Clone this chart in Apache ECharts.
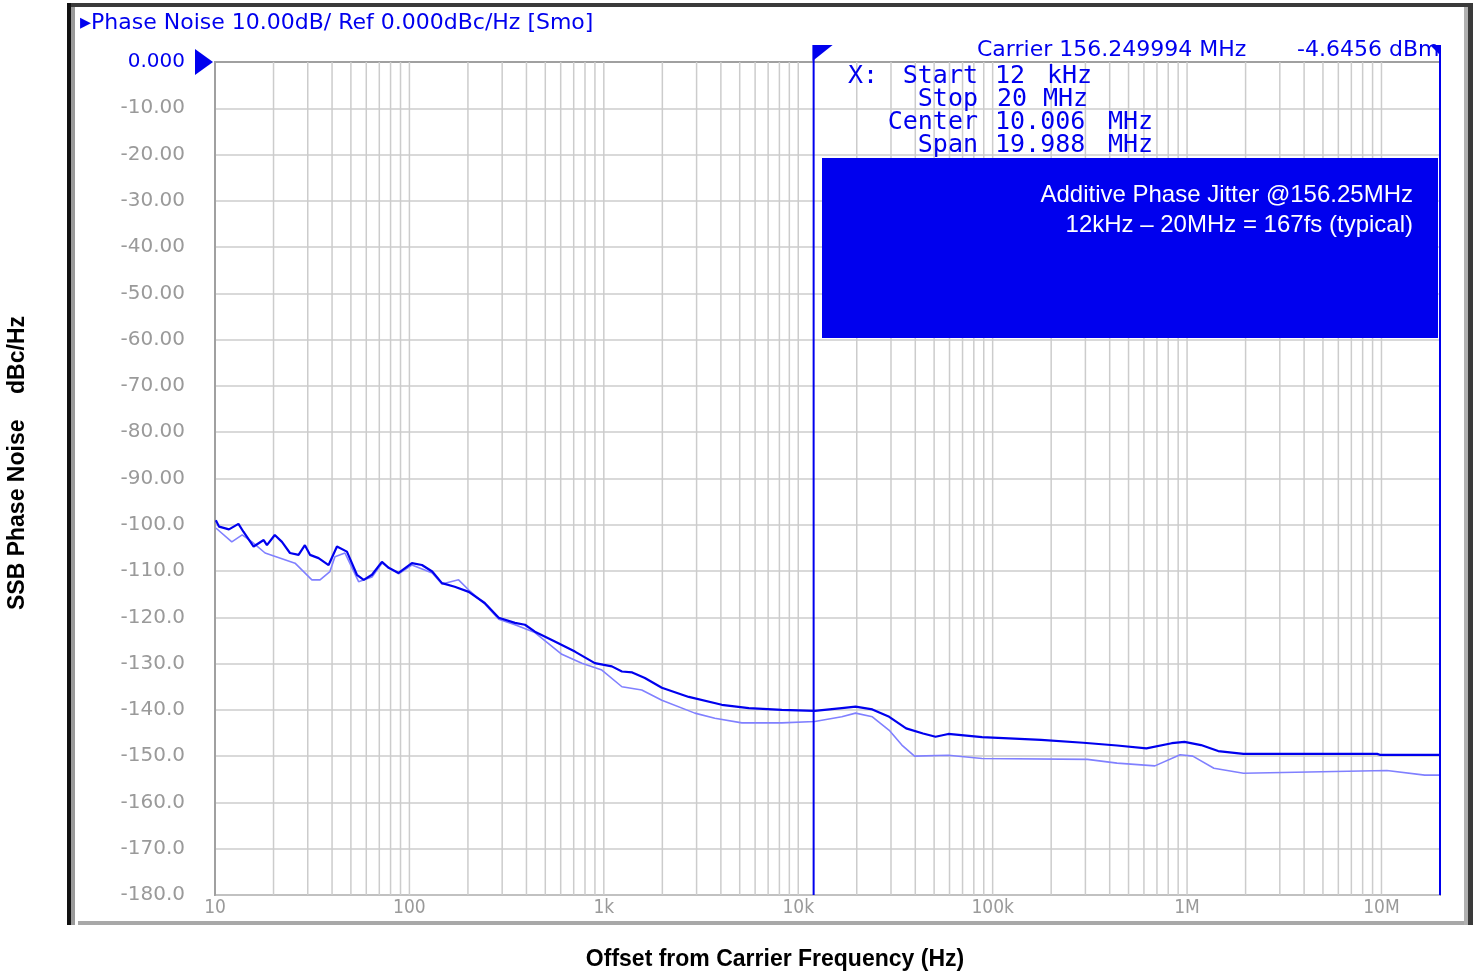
<!DOCTYPE html>
<html>
<head>
<meta charset="utf-8">
<script src="https://cdn.jsdelivr.net/npm/echarts@6/dist/echarts.min.js"></script>
<style>html,body{margin:0;padding:0;background:#fff;}#c{width:1479px;height:974px;}</style>
</head>
<body>
<div id="c"></div>
<script>
// ---- data ----
const xTickValues = [10, 100, 1000, 10000, 100000, 1000000, 10000000];
const xTickLabels = ['10', '100', '1k', '10k', '100k', '1M', '10M'];
const minorMultipliers = [1, 2, 3, 4, 5, 6, 7, 8, 9];

const darkFreq = [10.1,10.5,11.8,13.2,14.0,15.8,17.8,18.5,20.3,22.1,24.3,26.9,29.0,30.8,34.1,38.4,42.4,47.7,53.7,58.2,64.2,72.2,78.2,88.0,103,116,131,147,171,202,244,288,349,393,442,540,710,899,1100,1239,1400,1626,1988,2735,4043,5566,8225,12150,16750,19720,24050,29370,35890,43850,50850,59130,88180,177400,292400,436500,618000,834000,970000,1180000,1445000,1950000,9500000,9800000,20000000];
const darkDb = [-99.0,-100.4,-101.0,-99.8,-101.5,-104.7,-103.3,-104.4,-102.2,-103.7,-106.1,-106.5,-104.4,-106.5,-107.2,-108.7,-104.7,-105.8,-110.8,-111.9,-110.8,-108.0,-109.3,-110.4,-108.3,-108.7,-110.1,-112.6,-113.4,-114.5,-116.9,-120.1,-121.2,-121.6,-123.1,-124.9,-127.4,-129.9,-130.6,-131.7,-131.9,-133.1,-135.2,-137.2,-138.9,-139.6,-140.0,-140.2,-139.6,-139.3,-139.9,-141.5,-144.0,-145.1,-145.8,-145.2,-145.9,-146.5,-147.1,-147.7,-148.3,-147.2,-146.9,-147.6,-148.9,-149.5,-149.5,-149.7,-149.7];

const lightFreq = [10.1,12.2,13.8,15.5,18.1,25.8,31.5,34.7,39.0,41.4,46.6,54.8,64.2,72.2,88.0,103,131,147,179,202,244,288,349,442,608,771,977,1239,1567,1988,2938,3723,5128,8225,12150,16750,19720,24050,29370,34120,39630,59130,88180,307000,436500,683000,921000,1070000,1374000,1950000,10670000,16700000,20000000];
const lightDb = [-100.7,-103.7,-102.2,-103.7,-106.1,-108.3,-111.9,-111.9,-110.1,-106.9,-106.1,-112.3,-111.3,-108.3,-110.6,-108.7,-110.4,-112.8,-111.9,-114.1,-117.1,-120.4,-121.6,-123.3,-128.0,-129.9,-131.4,-135.0,-135.7,-137.9,-140.7,-141.8,-142.8,-142.8,-142.5,-141.5,-140.7,-141.5,-144.4,-147.6,-150.0,-149.8,-150.5,-150.7,-151.5,-152.1,-149.7,-150.0,-152.6,-153.7,-153.1,-154.1,-154.1];

const markerFreqs = [12000, 20000000];
const xMin = 10, xMax = 20000000;
const yMin = -180, yMax = 0, yStep = 10;

// vertical grid frequencies (1..9 x each decade)
const gridFreqs = [];
xTickValues.forEach(d => minorMultipliers.forEach(m => { const f = d * m; if (f > xMin && f < xMax) gridFreqs.push(f); }));

const BLUE = '#0000ee';
const chart = echarts.init(document.getElementById('c'));

function xLabel(v) {
  for (let i = 0; i < xTickValues.length; i++) {
    if (Math.abs(Math.log10(v) - Math.log10(xTickValues[i])) < 1e-6) return xTickLabels[i];
  }
  return '';
}
function yLabel(v) {
  if (Number(v) === 0) return '{ref|0.000}';
  v = Number(v);
  if (Math.abs(v) < 100) return v.toFixed(2);
  return v.toFixed(1);
}

chart.setOption({
  animation: false,
  backgroundColor: '#fff',
  grid: { left: 215, right: 39, top: 62, bottom: 79, show: true, borderColor: '#a0a0a0', borderWidth: 2 },
  xAxis: {
    type: 'log', logBase: 10, min: xMin, max: xMax,
    axisLine: { show: true, lineStyle: { color: '#a0a0a0', width: 2 } },
    axisTick: { show: false },
    splitLine: { show: false },
    minorSplitLine: { show: false },
    axisLabel: { formatter: xLabel, color: '#9a9a9a', fontFamily: 'DejaVu Sans Condensed', fontSize: 19, margin: 4 }
  },
  yAxis: {
    type: 'value', min: yMin, max: yMax, interval: yStep,
    axisLine: { show: true, lineStyle: { color: '#a0a0a0', width: 2 } },
    axisTick: { show: false },
    splitLine: { show: true, lineStyle: { color: '#cccccc', width: 1.5 } },
    axisLabel: {
      formatter: yLabel, color: '#9a9a9a', fontFamily: 'DejaVu Sans', fontSize: 20, margin: 30,
      rich: { ref: { color: BLUE, fontFamily: 'DejaVu Sans', fontSize: 20 } }
    }
  },
  series: [
    {
      type: 'custom', z: 1, silent: true,
      data: gridFreqs,
      renderItem: function (params, api) {
        const f = api.value(0);
        const p1 = api.coord([f, yMax]);
        const p2 = api.coord([f, yMin]);
        return { type: 'line', shape: { x1: p1[0], y1: p1[1], x2: p2[0], y2: p2[1] }, style: { stroke: '#cccccc', lineWidth: 1.5 } };
      },
      encode: { x: 0 }
    },
    {
      type: 'line', z: 3, showSymbol: false, symbol: 'none', silent: true,
      data: lightFreq.map((f, i) => [f, lightDb[i]]),
      lineStyle: { color: '#8080ff', width: 1.6 }
    },
    {
      type: 'line', z: 4, showSymbol: false, symbol: 'none', silent: true,
      data: darkFreq.map((f, i) => [f, darkDb[i]]),
      lineStyle: { color: BLUE, width: 2.2 }
    }
  ]
});

// ---- annotations positioned via the chart's own scales ----
const yTop = chart.convertToPixel({ yAxisIndex: 0 }, yMax);
const yBot = chart.convertToPixel({ yAxisIndex: 0 }, yMin);
const xLeft = chart.convertToPixel({ xAxisIndex: 0 }, xMin);
const mx1 = chart.convertToPixel({ xAxisIndex: 0 }, markerFreqs[0]);
const mx2 = chart.convertToPixel({ xAxisIndex: 0 }, markerFreqs[1]);
const flagTop = yTop - 17;

const monoFont = '25px "DejaVu Sans Mono"';
const infoTxt = (x, y, t, align) => ({ type: 'text', z: 20, style: { x: x, y: y, text: t, font: monoFont, fill: BLUE, textAlign: align || 'left', textVerticalAlign: 'middle' } });

const graphics = [
  // frame
  { type: 'rect', z: -10, shape: { x: 67, y: 3, width: 1406, height: 4 }, style: { fill: '#3a3a3a' } },
  { type: 'rect', z: -10, shape: { x: 67, y: 3, width: 4, height: 922 }, style: { fill: '#111' } },
  { type: 'rect', z: -10, shape: { x: 71, y: 7, width: 4, height: 918 }, style: { fill: '#9a9a9a' } },
  { type: 'rect', z: -10, shape: { x: 1468, y: 3, width: 5, height: 922 }, style: { fill: '#3a3a3a' } },
  { type: 'rect', z: -10, shape: { x: 1464, y: 7, width: 4, height: 918 }, style: { fill: '#b0b0b0' } },
  { type: 'rect', z: -10, shape: { x: 78, y: 921, width: 1386, height: 4 }, style: { fill: '#a8a8a8' } },
  // header
  { type: 'text', z: 20, style: { x: 80, y: 23, text: '▸Phase Noise 10.00dB/ Ref 0.000dBc/Hz [Smo]', font: '22px "DejaVu Sans"', fill: BLUE, textVerticalAlign: 'middle' } },
  // reference level triangle
  { type: 'polygon', z: 20, shape: { points: [[xLeft - 20, yTop - 13], [xLeft - 2, yTop], [xLeft - 20, yTop + 13]] }, style: { fill: BLUE } },
  // marker lines and flags
  { type: 'line', z: 15, shape: { x1: mx1, y1: flagTop, x2: mx1, y2: yBot }, style: { stroke: BLUE, lineWidth: 2 } },
  { type: 'line', z: 15, shape: { x1: mx2, y1: flagTop, x2: mx2, y2: yBot }, style: { stroke: BLUE, lineWidth: 2 } },
  { type: 'polygon', z: 15, shape: { points: [[mx1 - 1, flagTop], [mx1 + 19, flagTop], [mx1 - 1, flagTop + 16]] }, style: { fill: BLUE } },
  { type: 'polygon', z: 15, shape: { points: [[mx2 - 10, flagTop], [mx2 + 1, flagTop], [mx2 + 1, flagTop + 11]] }, style: { fill: BLUE } },
  // carrier text
  { type: 'text', z: 20, style: { x: 977, y: 50, text: 'Carrier 156.249994 MHz', font: '22px "DejaVu Sans"', fill: BLUE, textVerticalAlign: 'middle' } },
  { type: 'text', z: 20, style: { x: 1297, y: 50, text: '-4.6456 dBm', font: '22px "DejaVu Sans"', fill: BLUE, textVerticalAlign: 'middle' } },
  // marker info table
  infoTxt(848, 76, 'X:'),
  infoTxt(978, 76, 'Start', 'right'), infoTxt(995, 76, '12'), infoTxt(1047, 76, 'kHz'),
  infoTxt(978, 99, 'Stop', 'right'), infoTxt(997, 99, '20'), infoTxt(1043, 99, 'MHz'),
  infoTxt(978, 122, 'Center', 'right'), infoTxt(995, 122, '10.006'), infoTxt(1108, 122, 'MHz'),
  infoTxt(978, 145, 'Span', 'right'), infoTxt(995, 145, '19.988'), infoTxt(1108, 145, 'MHz'),
  // jitter box
  { type: 'rect', z: 18, shape: { x: 822, y: 158, width: 616, height: 180 }, style: { fill: BLUE } },
  { type: 'text', z: 19, style: { x: 1413, y: 195, text: 'Additive Phase Jitter @156.25MHz', font: '24px "Liberation Sans"', fill: '#fff', textAlign: 'right', textVerticalAlign: 'middle' } },
  { type: 'text', z: 19, style: { x: 1413, y: 225, text: '12kHz – 20MHz = 167fs (typical)', font: '24px "Liberation Sans"', fill: '#fff', textAlign: 'right', textVerticalAlign: 'middle' } },
  // axis titles
  { type: 'text', z: 20, x: 18, y: 463, rotation: Math.PI / 2, style: { x: 0, y: 0, text: 'SSB Phase Noise    dBc/Hz', font: 'bold 23px "Liberation Sans"', fill: '#000', textAlign: 'center', textVerticalAlign: 'middle' } },
  { type: 'text', z: 20, style: { x: 775, y: 960, text: 'Offset from Carrier Frequency (Hz)', font: 'bold 23px "Liberation Sans"', fill: '#000', textAlign: 'center', textVerticalAlign: 'middle' } }
];
chart.setOption({ graphic: graphics });
</script>
</body>
</html>
